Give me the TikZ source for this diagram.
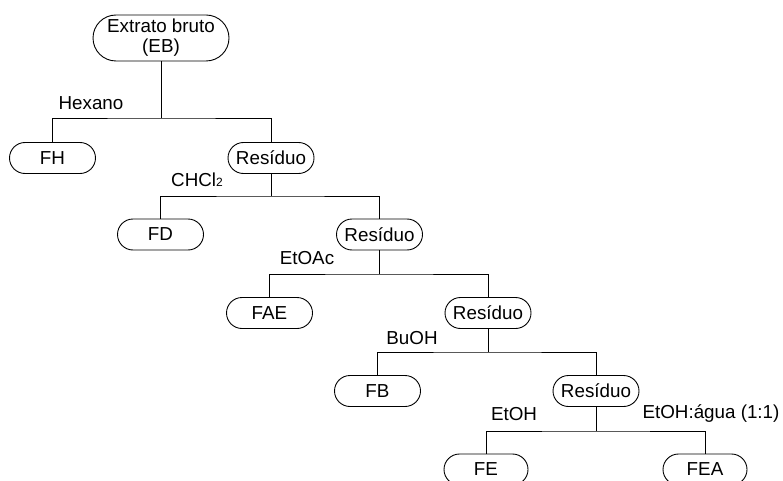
\documentclass[tikz,border=0pt]{standalone}
\usepackage{fontspec}
\setmainfont{Liberation Sans}
\usetikzlibrary{shapes.misc}
\begin{document}
\begin{tikzpicture}[x=1pt,y=-1pt,
  box/.style={draw, line width=0.9pt, rounded rectangle, minimum width=86pt, minimum height=31pt, inner sep=0pt, font=\fontsize{18.8}{21}\selectfont},
  lbl/.style={inner sep=0pt, font=\fontsize{18.8}{21}\selectfont},
  conn/.style={line width=0.9pt}]
\useasboundingbox (0,0) rectangle (783,481);
\clip (0,0) rectangle (783,481);
\node[box, minimum width=136pt, minimum height=46pt, align=center] (EB) at (161,38) {Extrato bruto\\[-1pt](EB)};
\node[box] (FH) at (52.5,158) {FH};
\node[box] (R1) at (271,158) {Resíduo};
\node[box] (FD) at (160.5,234.5) {FD};
\node[box] (R2) at (379.5,234.5) {Resíduo};
\node[box] (FAE) at (269.5,313) {FAE};
\node[box] (R3) at (488,313) {Resíduo};
\node[box] (FB) at (377.5,391) {FB};
\node[box] (R4) at (596,391) {Resíduo};
\node[box, minimum width=84pt] (FE) at (486,469.5) {FE};
\node[box, minimum width=84pt] (FEA) at (705,469.5) {FEA};
\coordinate (j1) at (161,118);
\coordinate (j2) at (271,196);
\coordinate (j3) at (379.5,274);
\coordinate (j4) at (488,352);
\coordinate (j5) at (596,431);
\draw[conn] (EB.south) -- (j1);
\draw[conn] (FH.north) |- (j1) -| (R1.north);
\draw[conn] (R1.south) -- (j2);
\draw[conn] (FD.north) |- (j2) -| (R2.north);
\draw[conn] (R2.south) -- (j3);
\draw[conn] (FAE.north) |- (j3) -| (R3.north);
\draw[conn] (R3.south) -- (j4);
\draw[conn] (FB.north) |- (j4) -| (R4.north);
\draw[conn] (R4.south) -- (j5);
\draw[conn] (FE.north) |- (j5) -| (FEA.north);
\node[lbl] (l1) at (91,103) {Hexano};
\node[lbl] (l2) at (197,180) {CHCl{\fontsize{12}{12}\selectfont 2}};
\node[lbl] (l3) at (307,258) {EtOAc};
\node[lbl] (l4) at (412,338) {BuOH};
\node[lbl] (l5) at (514,414) {EtOH};
\node[lbl] (l6) at (711,414) {EtOH:água (1:1)};
\end{tikzpicture}
\end{document}
